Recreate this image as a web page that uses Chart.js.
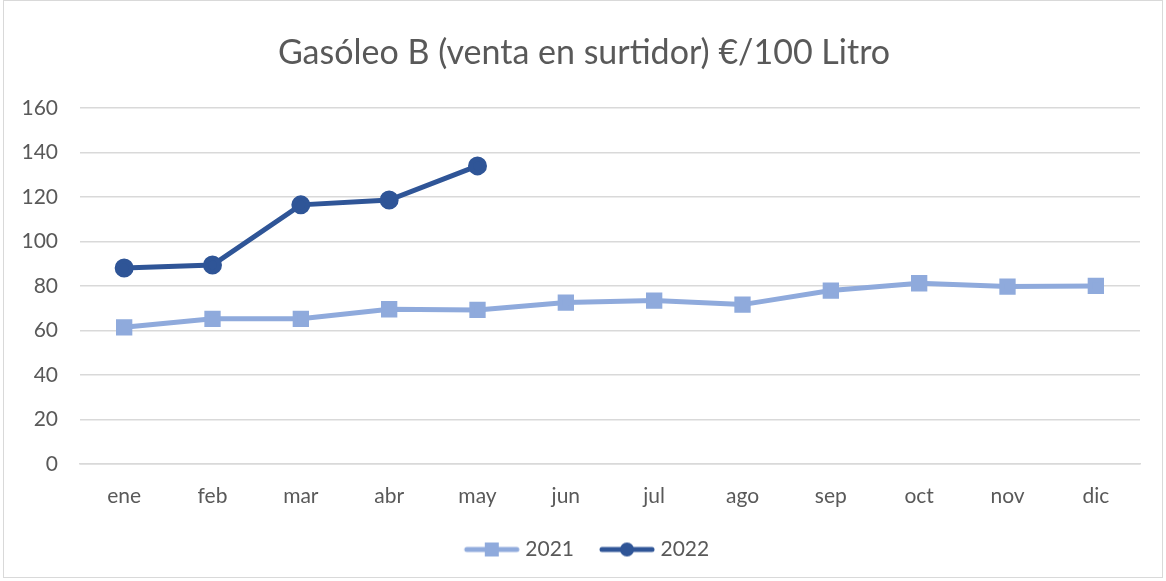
<!DOCTYPE html>
<html>
<head>
<meta charset="utf-8">
<script src="https://cdn.jsdelivr.net/npm/chart.js@4.4.1/dist/chart.umd.min.js"></script>
<style>
    html, body { margin: 0; padding: 0; background: #fff; }
    #wrap {
        position: absolute;
        left: 3px; top: 0;
        width: 1160px; height: 578px;
        border: 1px solid #d9d9d9;
        box-sizing: border-box;
    }
    #chart { position: absolute; left: -3px; top: 0; }
</style>
</head>
<body>
<div id="wrap"><canvas id="chart" width="1166" height="578"></canvas></div>
<script>
// Data
const months = ['ene', 'feb', 'mar', 'abr', 'may', 'jun', 'jul', 'ago', 'sep', 'oct', 'nov', 'dic'];
const values2021 = [61.4, 65.2, 65.2, 69.5, 69.2, 72.5, 73.4, 71.6, 77.9, 81.2, 79.7, 80.0];
const values2022 = [88.0, 89.4, 116.4, 118.6, 133.9];
const yTicks = [0, 20, 40, 60, 80, 100, 120, 140, 160];

const COLOR_2021 = '#8faadc';
const COLOR_2022 = '#2f5597';
const TEXT = '#595959';
const FONT = 'Lato, "Open Sans", sans-serif';

// Excel-like legend icon: a short line with the marker in the middle.
// Canvas is wider on the left so the line ends closer to the label text.
function legendIcon(color, shape) {
    const c = document.createElement('canvas');
    c.width = 68;
    c.height = 16;
    const g = c.getContext('2d');
    g.strokeStyle = color;
    g.lineWidth = 5;
    g.lineCap = 'round';
    g.beginPath();
    g.moveTo(14, 8);
    g.lineTo(64, 8);
    g.stroke();
    g.fillStyle = color;
    if (shape === 'rect') {
        g.fillRect(32, 1, 14, 14);
    } else {
        g.beginPath();
        g.arc(39, 8, 7, 0, Math.PI * 2);
        g.fill();
    }
    return c;
}

const icons = {
    '2021': legendIcon(COLOR_2021, 'rect'),
    '2022': legendIcon(COLOR_2022, 'circle')
};

const config = {
    type: 'line',
    data: {
        labels: months,
        datasets: [
            {
                label: '2021',
                data: values2021,
                borderColor: COLOR_2021,
                backgroundColor: COLOR_2021,
                borderWidth: 5,
                pointStyle: 'rect',
                pointRadius: 8,
                pointHoverRadius: 8,
                tension: 0
            },
            {
                label: '2022',
                data: values2022,
                borderColor: COLOR_2022,
                backgroundColor: COLOR_2022,
                borderWidth: 5,
                pointStyle: 'circle',
                pointRadius: 7,
                pointHoverRadius: 7,
                tension: 0
            }
        ]
    },
    options: {
        responsive: false,
        animation: false,
        layout: {
            padding: { left: 0, right: 0, top: 0, bottom: 9 }
        },
        plugins: {
            title: {
                display: true,
                text: 'Gasóleo B (venta en surtidor) €/100 Litro',
                color: TEXT,
                font: { family: FONT, size: 34, weight: 'normal' },
                padding: { top: 32, bottom: 34 }
            },
            legend: {
                display: true,
                position: 'bottom',
                labels: {
                    color: TEXT,
                    font: { family: FONT, size: 21 },
                    usePointStyle: true,
                    pointStyleWidth: 56,
                    padding: 20,
                    generateLabels: (chart) => {
                        return chart.data.datasets.map((ds, i) => ({
                            text: ds.label,
                            fontColor: TEXT,
                            pointStyle: icons[ds.label],
                            datasetIndex: i,
                            hidden: false,
                            lineWidth: 0
                        }));
                    }
                }
            },
            tooltip: { enabled: false }
        },
        scales: {
            x: {
                offset: true,
                grid: { display: false },
                border: { display: true, color: '#d9d9d9', width: 1.5 },
                ticks: {
                    color: TEXT,
                    font: { family: FONT, size: 21 },
                    padding: 12
                },
                afterFit: (scale) => {
                    scale.height = 55;
                }
            },
            y: {
                min: 0,
                max: 160,
                afterBuildTicks: (scale) => {
                    scale.ticks = yTicks.map(v => ({ value: v }));
                },
                afterFit: (scale) => {
                    scale.width = 79;
                },
                grid: {
                    color: '#d9d9d9',
                    lineWidth: 1.5,
                    drawTicks: false
                },
                border: { display: false },
                ticks: {
                    color: TEXT,
                    font: { family: FONT, size: 21 },
                    padding: 22
                }
            },
            // empty right-hand axis: only reserves the right margin so the
            // title and legend stay centred on the whole chart
            spacer: {
                position: 'right',
                grid: { display: false, drawTicks: false },
                border: { display: false },
                ticks: { display: false },
                afterFit: (scale) => {
                    scale.width = 27;
                }
            }
        }
    }
};

new Chart(document.getElementById('chart'), config);
</script>
</body>
</html>
